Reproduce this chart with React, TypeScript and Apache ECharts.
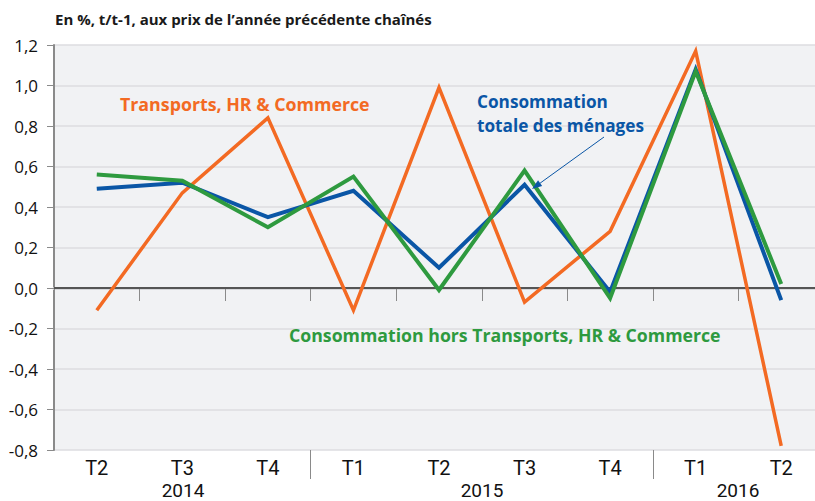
import React, { useEffect, useRef } from "react";
import * as echarts from "echarts";

const quarters = ["T2", "T3", "T4", "T1", "T2", "T3", "T4", "T1", "T2"];
const years = ["2014", "2015", "2016"];
const transports = [-0.11, 0.47, 0.84, -0.11, 0.99, -0.07, 0.28, 1.17, -0.78];
const totale = [0.49, 0.52, 0.35, 0.48, 0.1, 0.51, -0.02, 1.08, -0.06];
const hors = [0.56, 0.53, 0.3, 0.55, -0.01, 0.58, -0.05, 1.07, 0.02];
const yMin = -0.8;
const yMax = 1.2;
const yStep = 0.2;

const ORANGE = "#f36a23";
const BLUE = "#0a56a6";
const GREEN = "#2e9a3f";
const FONT = "'Open Sans', 'Noto Sans', sans-serif";
const TICKFONT = "'Liberation Sans Narrow', 'Roboto', sans-serif";

export default function App() {
  const ref = useRef<HTMLDivElement>(null);
  useEffect(() => {
    if (!ref.current) return;
    const chart = echarts.init(ref.current, null, { renderer: "svg" });
    const tip = [532, 189];
    const start = [604, 137];
    const dx = tip[0] - start[0];
    const dy = tip[1] - start[1];
    const len = Math.sqrt(dx * dx + dy * dy);
    const ux = dx / len;
    const uy = dy / len;
    const hl = 10;
    const hw = 3.5;
    const bx = tip[0] - ux * hl;
    const by = tip[1] - uy * hl;
    const px = -uy;
    const py = ux;

    const mkSeries = (name: string, data: number[], color: string, width: number, z: number) => ({
      name,
      type: "line",
      data,
      symbol: "none",
      z,
      lineStyle: { color, width, join: "miter" },
      itemStyle: { color },
    });

    const yearStyle = (text: string) => ({
      text,
      fill: "#111",
      font: `19px ${TICKFONT}`,
      textAlign: "center",
      textVerticalAlign: "middle",
    });

    const blueStyle = (text: string) => ({
      text,
      fill: BLUE,
      font: `bold 17.2px ${FONT}`,
      textVerticalAlign: "middle",
    });

    chart.setOption({
      animation: false,
      grid: {
        left: 54,
        right: 0,
        top: 45,
        bottom: 51,
        show: true,
        backgroundColor: "#f1f2f4",
        borderWidth: 0,
      },
      xAxis: [
        {
          type: "category",
          data: quarters,
          boundaryGap: true,
          axisLine: { show: true, lineStyle: { color: "#d6d7da", width: 3 } },
          axisTick: { show: true, interval: 0, length: 13, lineStyle: { color: "#8a8a8a", width: 1 } },
          axisLabel: { show: true, interval: 0, color: "#111", fontSize: 20, fontFamily: TICKFONT, margin: 8 },
        },
        {
          type: "category",
          data: quarters,
          position: "bottom",
          boundaryGap: true,
          axisLine: { show: false },
          axisTick: {
            show: true,
            interval: (i: number) => i === 3 || i === 7,
            length: 29,
            lineStyle: { color: "#8a8a8a", width: 1 },
          },
          axisLabel: { show: false },
        },
      ],
      yAxis: {
        type: "value",
        min: yMin,
        max: yMax,
        interval: yStep,
        axisLine: { show: true, lineStyle: { color: "#8a8a8a", width: 2 } },
        axisTick: { show: true, length: 7, lineStyle: { color: "#8a8a8a", width: 1 } },
        splitLine: { show: true, lineStyle: { color: "#dcdde0", width: 1.5 } },
        axisLabel: {
          color: "#111",
          fontSize: 17,
          fontFamily: FONT,
          margin: 16,
          formatter: (v: number) => v.toFixed(1).replace(".", ","),
        },
      },
      series: [
        {
          ...mkSeries("Transports, HR & Commerce", transports, ORANGE, 3.5, 3),
          markLine: {
            silent: true,
            symbol: "none",
            label: { show: false },
            lineStyle: { color: "#555", width: 2, type: "solid" },
            data: [{ yAxis: 0 }],
            z: 1,
          },
        },
        mkSeries("Consommation totale des ménages", totale, BLUE, 4, 4),
        mkSeries("Consommation hors Transports, HR & Commerce", hors, GREEN, 4, 5),
      ],
      graphic: [
        {
          type: "text",
          x: 55,
          y: 19,
          style: {
            text: "En %, t/t-1, aux prix de l\u2019année précédente chaînés",
            fill: "#1a1a1a",
            font: `bold 15px ${FONT}`,
            textVerticalAlign: "middle",
          },
        },
        {
          type: "text",
          x: 120,
          y: 104,
          z: 10,
          style: {
            text: "Transports, HR & Commerce",
            fill: ORANGE,
            font: `bold 17.8px ${FONT}`,
            textVerticalAlign: "middle",
          },
        },
        { type: "text", x: 477, y: 101.5, z: 10, style: blueStyle("Consommation") },
        { type: "text", x: 477, y: 125, z: 10, style: blueStyle("totale des ménages") },
        {
          type: "text",
          x: 289,
          y: 335,
          z: 10,
          style: {
            text: "Consommation hors Transports, HR & Commerce",
            fill: GREEN,
            font: `bold 17.7px ${FONT}`,
            textVerticalAlign: "middle",
          },
        },
        {
          type: "line",
          z: 10,
          shape: { x1: start[0], y1: start[1], x2: bx, y2: by },
          style: { stroke: BLUE, lineWidth: 1 },
        },
        {
          type: "polygon",
          z: 10,
          shape: {
            points: [
              [tip[0], tip[1]],
              [bx + px * hw, by + py * hw],
              [bx - px * hw, by - py * hw],
            ],
          },
          style: { fill: BLUE },
        },
        { type: "text", x: 183, y: 490, style: yearStyle(years[0]) },
        { type: "text", x: 482, y: 490, style: yearStyle(years[1]) },
        { type: "text", x: 738, y: 490, style: yearStyle(years[2]) },
      ],
    });
    return () => chart.dispose();
  }, []);
  return (
    <div
      ref={ref}
      style={{ position: "fixed", left: 0, top: 0, width: 824, height: 501, background: "#fff" }}
    />
  );
}
